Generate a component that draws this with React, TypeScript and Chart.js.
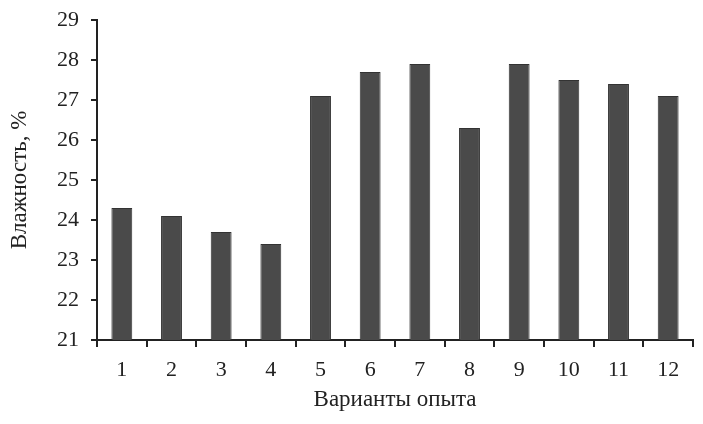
import React, { useEffect, useRef } from "react";
import { Chart, registerables } from "chart.js";

Chart.register(...registerables);

const categories = ["1", "2", "3", "4", "5", "6", "7", "8", "9", "10", "11", "12"];
const humidity = [24.3, 24.1, 23.7, 23.4, 27.1, 27.7, 27.9, 26.3, 27.9, 27.5, 27.4, 27.1];
const yTitle = "Влажность, %";
const xTitle = "Варианты опыта";

export default function App() {
  const ref = useRef<HTMLCanvasElement>(null);
  useEffect(() => {
    document.body.style.margin = "0";
    const family = "'Liberation Serif', 'Times New Roman', serif";
    const tickFont = { family, size: 22 };
    const titleFont = { family, size: 23 };
    const chart = new Chart(ref.current!, {
      type: "bar",
      data: {
        labels: categories,
        datasets: [
          {
            data: humidity,
            backgroundColor: "#4a4a4a",
            borderColor: "#333333",
            borderWidth: 1,
            barPercentage: 0.84,
            categoryPercentage: 0.5,
          },
        ],
      },
      options: {
        animation: false,
        responsive: false,
        maintainAspectRatio: false,
        events: [],
        layout: { padding: { left: 6, top: 20, right: 10, bottom: 10 } },
        plugins: { legend: { display: false }, tooltip: { enabled: false } },
        scales: {
          x: {
            grid: { drawOnChartArea: false, offset: true, tickLength: 7, color: "#222", lineWidth: 2 },
            border: { color: "#222", width: 2 },
            ticks: { color: "#222", font: tickFont, padding: 10, maxRotation: 0 },
            title: { display: true, text: xTitle, color: "#222", font: titleFont, padding: 0 },
            afterFit: (s: any) => { s.height = 74; s.paddingLeft = 0; s.paddingRight = 0; },
          },
          y: {
            min: 21,
            max: 29,
            grid: { drawOnChartArea: false, tickLength: 6, color: "#222", lineWidth: 2 },
            border: { color: "#222", width: 2 },
            ticks: { stepSize: 1, color: "#222", font: tickFont, padding: 12 },
            title: { display: true, text: yTitle, color: "#222", font: titleFont, padding: 0 },
            afterFit: (s: any) => { s.width = 91; s.paddingTop = 0; s.paddingBottom = 0; },
          },
        },
      },
    });
    return () => chart.destroy();
  }, []);
  return (
    <div style={{ width: 703, height: 424, background: "#fff" }}>
      <canvas ref={ref} width={703} height={424} />
    </div>
  );
}
